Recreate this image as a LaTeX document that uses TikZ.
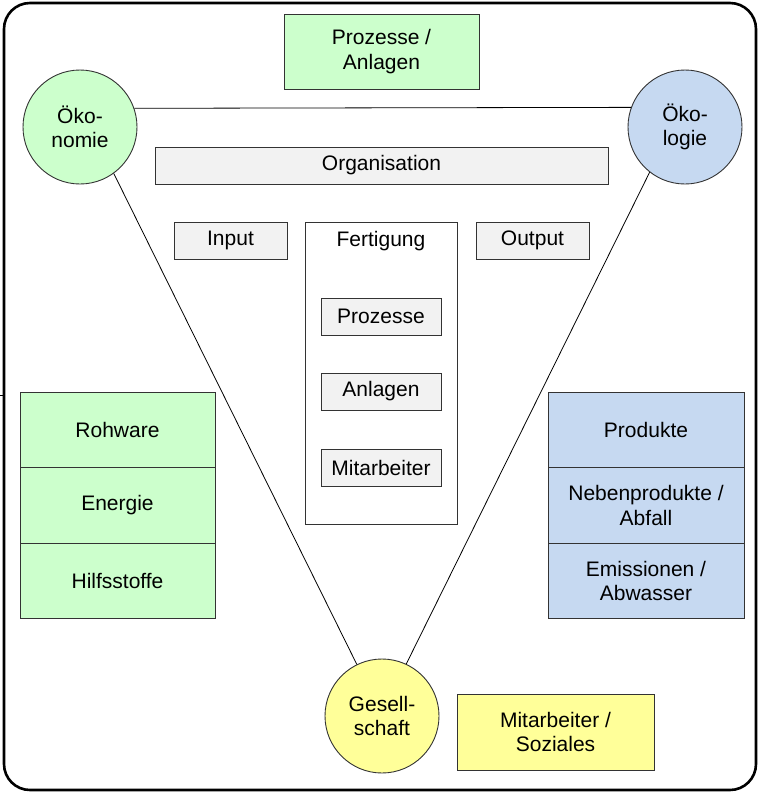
\documentclass[tikz,border=0pt]{standalone}
\usepackage{fontspec}
\setmainfont{Liberation Sans}
\definecolor{cgreen}{HTML}{CCFFCC}
\definecolor{cblue}{HTML}{C6D9F1}
\definecolor{cyellow}{HTML}{FFFF99}
\definecolor{cgray}{HTML}{F2F2F2}
\definecolor{cline}{HTML}{333333}
\begin{document}
\begin{tikzpicture}[x=1pt,y=-1pt,
  every node/.style={font=\fontsize{21}{24.5}\selectfont, align=center, inner sep=0pt},
  box/.style={draw=cline, line width=0.9pt, rectangle},
  bigcircle/.style={draw=cline, line width=0.9pt, circle, minimum size=114pt},
  conn/.style={draw=black, line width=0.8pt}]
\useasboundingbox (0,0) rectangle (759,793);
% outer frame
\draw[line width=2.6pt, rounded corners=26pt] (4,3) rectangle (756,790);
\draw[line width=0.8pt] (0,395) -- (3,395);
% circles
\node[bigcircle, fill=cgreen] (oekon) at (80,127) {Öko-\\nomie};
\node[bigcircle, fill=cblue] (oekol) at (685,127) {Öko-\\logie};
\node[bigcircle, fill=cyellow] (ges) at (382,716) {Gesell-\\schaft};
% connectors
\draw[conn] (oekon.19.5) -- (oekol.160.5);
\draw[conn] (oekon.-54.3) -- (ges.116.6);
\draw[conn] (oekol.232.7) -- (ges.65.2);
% top boxes
\node[box, fill=cgreen, minimum width=195pt, minimum height=75pt] (proz) at (381.5,51.5) {Prozesse /\\Anlagen};
\node[box, fill=cgray, minimum width=453pt, minimum height=37pt] (org) at (381.5,165.5) {Organisation};
\node[box, fill=cgray, minimum width=113pt, minimum height=37pt] (inp) at (230.5,240.5) {Input};
\node[box, fill=cgray, minimum width=113pt, minimum height=37pt] (outp) at (532.5,240.5) {Output};
% Fertigung
\node[box, fill=white, minimum width=152pt, minimum height=302pt] (fert) at (381,373) {};
\node (fertlbl) at (381,241) {Fertigung};
\node[box, fill=cgray, minimum width=120pt, minimum height=37pt] (fproz) at (381,316.5) {Prozesse};
\node[box, fill=cgray, minimum width=120pt, minimum height=37pt] (fanl) at (381,391.5) {Anlagen};
\node[box, fill=cgray, minimum width=120pt, minimum height=37pt] (fmit) at (381,467.5) {Mitarbeiter};
% left stack
\node[box, fill=cgreen, minimum width=195pt, minimum height=75.5pt] (roh) at (117.5,429.75) {Rohware};
\node[box, fill=cgreen, minimum width=195pt, minimum height=75.5pt] (ene) at (117.5,505.25) {Energie};
\node[box, fill=cgreen, minimum width=195pt, minimum height=75.5pt] (hilf) at (117.5,580.75) {Hilfsstoffe};
% right stack
\node[box, fill=cblue, minimum width=196pt, minimum height=75.5pt] (prod) at (646,429.75) {Produkte};
\node[box, fill=cblue, minimum width=196pt, minimum height=75.5pt] (neb) at (646,505.25) {Nebenprodukte /\\Abfall};
\node[box, fill=cblue, minimum width=196pt, minimum height=75.5pt] (emi) at (646,580.75) {Emissionen /\\Abwasser};
% social
\node[box, fill=cyellow, minimum width=197pt, minimum height=76pt] (soz) at (555.5,732) {Mitarbeiter /\\Soziales};
\end{tikzpicture}
\end{document}
